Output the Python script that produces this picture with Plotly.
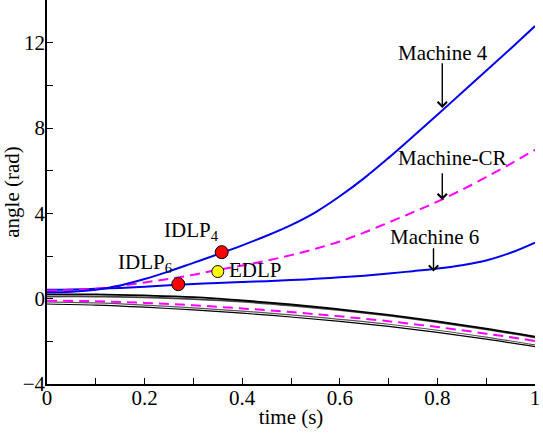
import plotly.graph_objects as go

t_fine = [round(i * 0.05, 2) for i in range(21)]
t_coarse = [round(i * 0.1, 1) for i in range(11)]

machine4 = [0.30, 0.33, 0.42, 0.62, 0.92, 1.28, 1.68, 2.08, 2.5, 2.95, 3.45,
            4.05, 4.8, 5.65, 6.6, 7.6, 8.62, 9.65, 10.68, 11.72, 12.78]
machine_cr = [0.38, 0.40, 0.47, 0.60, 0.76, 0.93, 1.12, 1.35, 1.55, 1.78, 2.04,
              2.34, 2.68, 3.1, 3.57, 4.05, 4.55, 5.1, 5.7, 6.32, 6.98]
machine6 = [0.42, 0.43, 0.46, 0.50, 0.56, 0.63, 0.69, 0.74, 0.78, 0.82, 0.87,
            0.93, 1.00, 1.08, 1.18, 1.29, 1.41, 1.57, 1.79, 2.15, 2.63]

black_thick = [0.2, 0.2, 0.15, 0.07, -0.08, -0.27, -0.5, -0.76, -1.06, -1.4, -1.78]
gray_thick = [0.1, 0.1, 0.06, -0.02, -0.14, -0.32, -0.54, -0.8, -1.1, -1.44, -1.82]
magenta_low = [-0.1, -0.12, -0.2, -0.31, -0.46, -0.63, -0.83, -1.06, -1.33, -1.64, -1.98]
gray_thin = [-0.15, -0.2, -0.3, -0.43, -0.58, -0.76, -0.97, -1.2, -1.48, -1.8, -2.17]
black_thin = [-0.25, -0.3, -0.4, -0.53, -0.68, -0.86, -1.06, -1.3, -1.58, -1.9, -2.25]

idlp_t = [0.358, 0.269]
idlp_v = [2.18, 0.68]
edlp_t = [0.35]
edlp_v = [1.27]

FONT = "Liberation Serif"
BLUE = "#0000ee"
MAG = "#ff00ff"

fig = go.Figure()

def add_line(x, y, color, width, dash="solid"):
    fig.add_trace(go.Scatter(x=x, y=y, mode="lines", line=dict(color=color, width=width, dash=dash, shape="spline"),
                             showlegend=False, hoverinfo="skip"))

add_line(t_coarse, black_thin, "#000000", 1.2)
add_line(t_coarse, gray_thin, "#555555", 1.2)
add_line(t_coarse, gray_thick, "#444444", 1.8)
add_line(t_coarse, black_thick, "#000000", 1.8)
add_line(t_coarse, magenta_low, MAG, 2, "10px,6px")
add_line(t_fine, machine6, BLUE, 2)
add_line(t_fine, machine_cr, MAG, 2, "10px,6px")
add_line(t_fine, machine4, BLUE, 2)

fig.add_trace(go.Scatter(x=idlp_t, y=idlp_v, mode="markers",
                         marker=dict(color="#ff0000", size=13, line=dict(color="#000000", width=1)),
                         showlegend=False, hoverinfo="skip"))
fig.add_trace(go.Scatter(x=edlp_t, y=edlp_v, mode="markers",
                         marker=dict(color="#ffff00", size=12, line=dict(color="#000000", width=1)),
                         showlegend=False, hoverinfo="skip"))

tf = dict(family=FONT, size=21, color="#000000")

# arrows
for (x, y0, y1) in [(0.81, 11.1, 8.94), (0.81, 5.95, 4.63), (0.792, 2.43, 1.27)]:
    fig.add_annotation(x=x, y=y1, ax=x, ay=y0, axref="x", ayref="y", xref="x", yref="y",
                       text="", showarrow=True, arrowhead=4, arrowsize=1.3, arrowwidth=1.4,
                       arrowcolor="#000000")

labels = [
    (0.811, 11.53, "Machine 4"),
    (0.83, 6.6, "Machine-CR"),
    (0.795, 2.9, "Machine 6"),
    (0.296, 3.17, "IDLP<sub>4</sub>"),
    (0.2, 1.67, "IDLP<sub>6</sub>"),
    (0.427, 1.35, "EDLP"),
]
for x, y, txt in labels:
    fig.add_annotation(x=x, y=y, text=txt, showarrow=False, font=tf, xref="x", yref="y")

axis_common = dict(showline=True, linecolor="#000000", linewidth=1.5, ticks="inside", ticklen=6,
                   tickcolor="#000000", tickwidth=1, showgrid=False, zeroline=False,
                   tickfont=tf, mirror=False)

fig.update_xaxes(range=[0, 1], dtick=0.2, tick0=0, ticklabelstandoff=-6,
                 minor=dict(dtick=0.1, ticks="inside", ticklen=6, tickcolor="#000000", showgrid=False),
                 title=dict(text="time (s)", font=tf, standoff=0), **axis_common)
fig.update_yaxes(range=[-4, 14], dtick=4, tick0=0, ticklabelstandoff=-4,
                 minor=dict(dtick=2, ticks="inside", ticklen=6, tickcolor="#000000", showgrid=False),
                 title=dict(text="angle (rad)", font=tf, standoff=4), **axis_common)

fig.update_layout(width=543, height=436, margin=dict(l=47, r=8, t=0, b=52, autoexpand=False),
                  plot_bgcolor="#ffffff", paper_bgcolor="#ffffff", font=tf)

fig.write_html("out.html", config={"displayModeBar": False},
               post_script="document.body.style.margin='0';")
